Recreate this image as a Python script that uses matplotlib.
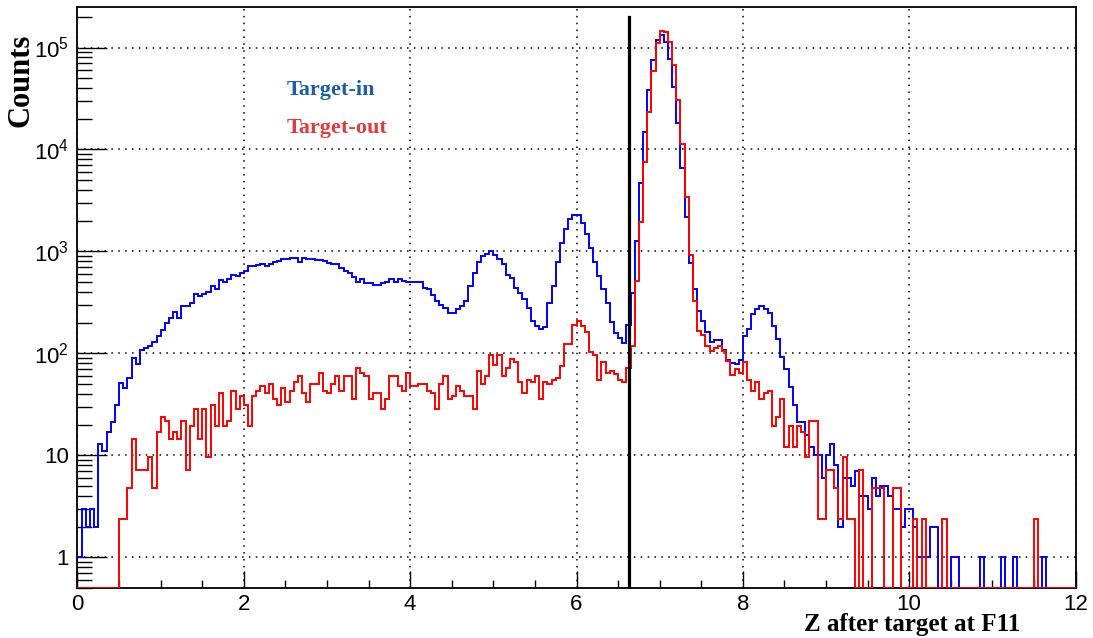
import numpy as np
import matplotlib.pyplot as plt
from matplotlib.ticker import FixedLocator, LogLocator, FuncFormatter, NullFormatter

# histogram definition: 240 bins between Z = 0 and Z = 12
z_lo, z_hi, n_bins = 0.0, 12.0, 240

# counts per bin, target-in run
target_in = [
    1, 3, 2, 3, 2, 13, 11, 17, 21, 31,
    51, 46, 58, 91, 78, 108, 113, 118, 129, 148,
    170, 197, 224, 254, 224, 291, 291, 314, 385, 363,
    380, 400, 457, 430, 524, 500, 540, 590, 570, 610,
    640, 718, 718, 735, 760, 720, 757, 786, 803, 835,
    835, 860, 860, 791, 860, 835, 835, 822, 822, 800,
    775, 757, 757, 681, 641, 608, 564, 504, 531, 485,
    485, 464, 464, 485, 500, 531, 504, 531, 510, 504,
    504, 500, 500, 440, 424, 378, 326, 300, 280, 250,
    247, 274, 291, 326, 457, 608, 786, 900, 935, 1007,
    914, 835, 747, 582, 552, 440, 393, 338, 280, 208,
    185, 175, 183, 309, 457, 786, 1216, 1667, 2060, 2254,
    2254, 1884, 1470, 1087, 786, 573, 424, 309, 203, 160,
    140, 127, 192, 393, 1262, 4640, 14800, 38700, 76300, 118000,
    132000, 113000, 77500, 41200, 18000, 6610, 2190, 775, 431, 260,
    208, 162, 129, 134, 134, 108, 86, 81, 78, 87,
    148, 174, 245, 274, 291, 274, 250, 185, 137, 93,
    70, 47, 31, 21, 21, 16, 12, 10, 10, 6,
    10, 13, 8, 2, 6, 6, 5, 7, 4, 4,
    3, 6, 4, 5, 5, 4, 3, 3, 2, 3,
    3, 2, 1, 1, 1, 2, 2, 0, 0, 0,
    1, 1, 0, 0, 0, 0, 0, 1, 0, 0,
    0, 0, 1, 0, 0, 1, 0, 0, 0, 0,
    0, 0, 1, 0, 0, 0, 0, 0, 0, 0,
]

# counts per bin, target-out run (normalised)
target_out = [
    0, 0, 0, 0, 0, 0, 0, 0, 0, 0,
    2.4, 2.4, 4.8, 14.4, 7.2, 7.2, 7.2, 9.6, 4.8, 16.8,
    24, 21.6, 14.4, 16.8, 14.4, 21.6, 7.2, 19.2, 28.8, 14.4,
    28.8, 9.6, 31.2, 19.2, 40.8, 19.2, 21.6, 43.2, 28.8, 38.4,
    31.2, 19.2, 38.4, 43.2, 48, 40.8, 50.4, 36, 31.2, 45.6,
    33.6, 43.2, 52.8, 60, 40.8, 33.6, 50.4, 50.4, 64.8, 43.2,
    40.8, 50.4, 60, 43.2, 60, 60, 36, 72, 64.8, 60,
    36, 40.8, 40.8, 28.8, 36, 60, 60, 48, 43.2, 64.8,
    48, 48, 50.4, 50.4, 43.2, 40.8, 28.8, 50.4, 60, 36,
    38.4, 48, 43.2, 38.4, 38.4, 28.8, 67.2, 50.4, 60, 96,
    76.8, 96, 60, 72, 88.8, 81.6, 52.8, 40.8, 55.2, 52.8,
    60, 36, 52.8, 50.4, 55.2, 57.6, 74.4, 124.8, 124.8, 192,
    206.4, 187.2, 160.8, 103.2, 96, 55.2, 81.6, 64.8, 67.2, 62.4,
    55.2, 52.8, 72, 117.6, 513.6, 1940, 7500, 23400, 58600, 111000,
    145000, 142000, 113000, 67000, 30900, 11200, 3400, 914, 326, 166,
    153, 118, 105, 113, 117, 105, 84, 62, 70, 64.8,
    81.6, 55.2, 43.2, 52.8, 36, 40.8, 43.2, 19.2, 24, 36,
    12, 19.2, 12, 19.2, 16.8, 9.6, 21.6, 21.6, 2.4, 2.4,
    7.2, 7.2, 4.8, 2.4, 9.6, 2.4, 2.4, 0, 7.2, 0,
    0, 4.8, 4.8, 4.8, 0, 0, 4.8, 4.8, 0, 0,
    0, 2.4, 0, 2.4, 0, 0, 0, 0, 2.4, 0,
    0, 0, 0, 0, 0, 0, 0, 0, 0, 0,
    0, 0, 0, 0, 0, 0, 0, 0, 0, 0,
    2.4, 0, 0, 0, 0, 0, 0, 0, 0, 0,
]

# cut position drawn as a vertical line
z_cut = 6.63
cut_top = 2.0e5

x_ticks = [0, 2, 4, 6, 8, 10, 12]
y_lo, y_hi = 0.5, 2.5e5

plt.rcParams['font.family'] = ['Liberation Sans', 'DejaVu Sans']
plt.rcParams['mathtext.fontset'] = 'custom'
plt.rcParams['mathtext.rm'] = 'Liberation Sans'
plt.rcParams['mathtext.it'] = 'Liberation Sans:italic'
plt.rcParams['mathtext.bf'] = 'Liberation Sans:bold'

fig = plt.figure(figsize=(10.93, 6.38), dpi=100)
ax = fig.add_axes([0.0709, 0.0784, 0.9131, 0.9107])

edges = np.linspace(z_lo, z_hi, n_bins + 1)
# empty bins are drawn on the frame bottom, like ROOT does on a log axis
h_in = np.clip(np.asarray(target_in, float), y_lo, None)
h_out = np.clip(np.asarray(target_out, float), y_lo, None)
ax.stairs(h_in, edges, baseline=None, color='#0000ff', lw=1.4, zorder=3)
ax.stairs(h_out, edges, baseline=None, color='#ff0000', lw=1.4, zorder=4)

ax.plot([z_cut, z_cut], [y_lo, cut_top], color='black', lw=2.3, zorder=5)

ax.set_yscale('log')
ax.set_xlim(z_lo, z_hi)
ax.set_ylim(y_lo, y_hi)

# ticks, ROOT style
ax.xaxis.set_major_locator(FixedLocator(x_ticks))
ax.xaxis.set_minor_locator(FixedLocator(np.arange(0, 12.01, 0.5)))
ax.yaxis.set_major_locator(LogLocator(base=10, numticks=20))
ax.yaxis.set_minor_locator(LogLocator(base=10, subs=np.arange(2, 10), numticks=20))
ax.yaxis.set_minor_formatter(NullFormatter())


def log_label(v, pos):
    e = int(round(np.log10(v)))
    if e == 0:
        return '1'
    if e == 1:
        return '10'
    return r'$10^{%d}$' % e


ax.yaxis.set_major_formatter(FuncFormatter(log_label))
ax.tick_params(axis='both', which='both', direction='in', top=False, right=False,
               width=1.0, colors='black', labelsize=16)
ax.tick_params(axis='x', which='major', length=12.2, pad=4)
ax.tick_params(axis='x', which='minor', length=6.1)
ax.tick_params(axis='y', which='major', length=21.6, pad=6)
ax.tick_params(axis='y', which='minor', length=10.8)
for s in ax.spines.values():
    s.set_linewidth(1.3)

ax.grid(True, which='major', color='black', linestyle=(0, (1, 3.5)), linewidth=1.1)

# axis titles
fig.text(1020 / 1093, 1 - 625 / 638, 'Z after target at F11', ha='right', va='center',
         fontsize=18, fontweight='bold', family='Liberation Serif')
fig.text(21 / 1093, 1 - 34 / 638, 'Counts', ha='center', va='top', rotation=90,
         fontsize=22, fontweight='bold', family='Liberation Serif')

# legend as plain text
ax.text(0.21, 0.857, 'Target-in', transform=ax.transAxes, ha='left', va='center',
        fontsize=16, fontweight='bold', family='Liberation Serif', color='#1a5ea6')
ax.text(0.21, 0.792, 'Target-out', transform=ax.transAxes, ha='left', va='center',
        fontsize=16, fontweight='bold', family='Liberation Serif', color='#e33b3b')

fig.savefig('out.png', dpi=100, facecolor='white')
